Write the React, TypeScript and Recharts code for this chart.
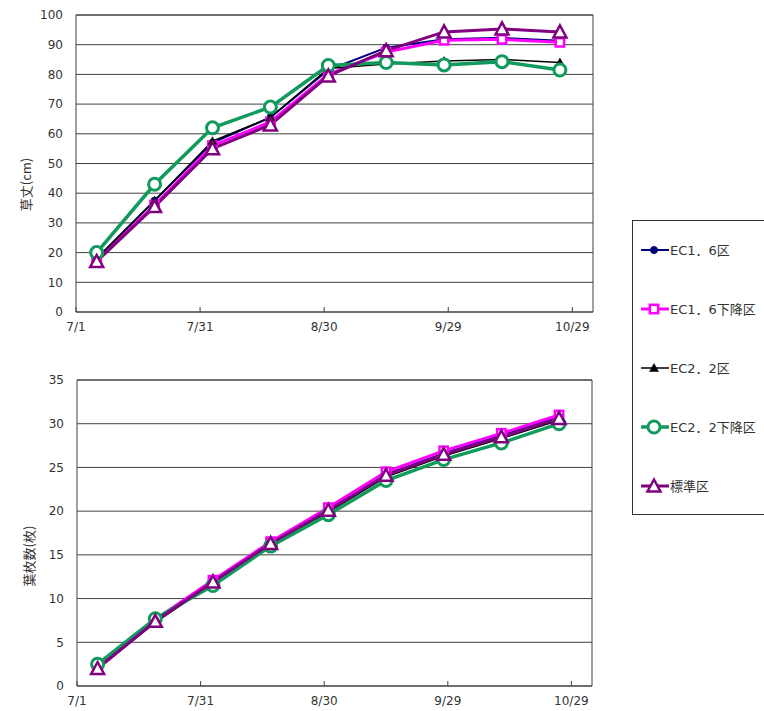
import React from "react";
import { LineChart, Line, XAxis, YAxis, CartesianGrid, ReferenceLine } from "recharts";

// Sampling dates (every two weeks) and the date axis
const SAMPLE_DATES = ["7/6", "7/20", "8/3", "8/17", "8/31", "9/14", "9/28", "10/12", "10/26"];
const AXIS_TICK_DATES = ["7/1", "7/31", "8/30", "9/29", "10/29"];
const AXIS_START = "7/1";
const AXIS_END = "11/3";

// Y axis ticks
const HEIGHT_TICKS = [0, 10, 20, 30, 40, 50, 60, 70, 80, 90, 100];
const LEAF_TICKS = [0, 5, 10, 15, 20, 25, 30, 35];

// Plant height (cm)
const HEIGHT_EC16 = [18, 37.5, 57, 65.5, 81.5, 89, 91.8, 92.3, 91.3];
const HEIGHT_EC16_DOWN = [17.5, 36, 56, 64, 80, 87.5, 91.5, 91.8, 90.8];
const HEIGHT_EC22 = [18, 37.5, 57.5, 65.5, 82, 83.5, 84.5, 85, 84];
const HEIGHT_EC22_DOWN = [20, 43, 62, 69, 83, 84, 83.2, 84.3, 81.5];
const HEIGHT_STANDARD = [17, 35.5, 55, 63, 79.5, 88, 94.3, 95.3, 94.3];

// Leaf count
const LEAVES_EC16 = [2, 7.3, 11.8, 16.2, 20.1, 24.2, 26.6, 28.7, 30.8];
const LEAVES_EC16_DOWN = [2.1, 7.6, 12.1, 16.5, 20.4, 24.5, 26.9, 28.9, 31];
const LEAVES_EC22 = [2, 7.3, 11.7, 16.1, 19.9, 23.9, 26.3, 28.3, 30.4];
const LEAVES_EC22_DOWN = [2.5, 7.7, 11.5, 16, 19.6, 23.5, 25.9, 27.8, 30];
const LEAVES_STANDARD = [2, 7.4, 11.9, 16.3, 20.1, 24.1, 26.5, 28.5, 30.6];

const SERIES_NAMES = ["EC1．6区", "EC1．6下降区", "EC2．2区", "EC2．2下降区", "標準区"];

// days counted from 7/1 (non-leap year)
const MONTH_OFFSET: Record<number, number> = { 7: 0, 8: 31, 9: 62, 10: 92, 11: 123 };
const dayOf = (md: string) => {
  const [m, d] = md.split("/").map(Number);
  return MONTH_OFFSET[m] + d - 1;
};
const AXIS_TICK_DAYS = AXIS_TICK_DATES.map(dayOf);

type MarkerKind = "dot" | "square" | "tri" | "ring" | "bigtri";

const SERIES_STYLE: { key: string; color: string; width: number; marker: MarkerKind }[] = [
  { key: "ec16", color: "#000080", width: 2, marker: "dot" },
  { key: "ec16d", color: "#ff00ff", width: 3, marker: "square" },
  { key: "ec22", color: "#000000", width: 1.5, marker: "tri" },
  { key: "ec22d", color: "#109a5c", width: 3.5, marker: "ring" },
  { key: "std", color: "#800080", width: 3, marker: "bigtri" },
];

const buildRows = (cols: number[][]) =>
  SAMPLE_DATES.map((d, i) => {
    const row: Record<string, number> = { day: dayOf(d) };
    SERIES_STYLE.forEach((s, k) => {
      row[s.key] = cols[k][i];
    });
    return row;
  });

const heightRows = buildRows([HEIGHT_EC16, HEIGHT_EC16_DOWN, HEIGHT_EC22, HEIGHT_EC22_DOWN, HEIGHT_STANDARD]);
const leafRows = buildRows([LEAVES_EC16, LEAVES_EC16_DOWN, LEAVES_EC22, LEAVES_EC22_DOWN, LEAVES_STANDARD]);

const GRID = "#404040";
const TEXT = "#333333";
const NUM_FONT = "'DejaVu Sans', 'Noto Sans CJK JP', sans-serif";
const JP_FONT = "'Noto Sans CJK JP', sans-serif";

function Marker({ kind, cx, cy, color }: { kind: MarkerKind; cx: number; cy: number; color: string }) {
  switch (kind) {
    case "dot":
      return <circle cx={cx} cy={cy} r={3.5} fill={color} stroke={color} strokeWidth={1} />;
    case "square":
      return <rect x={cx - 4.2} y={cy - 4.2} width={8.4} height={8.4} fill="#ffffff" stroke={color} strokeWidth={2.5} />;
    case "tri":
      return <path d={`M${cx},${cy - 4.5} L${cx + 4.5},${cy + 3.5} L${cx - 4.5},${cy + 3.5} Z`} fill={color} stroke={color} strokeWidth={0.5} />;
    case "ring":
      return <circle cx={cx} cy={cy} r={6} fill="#ffffff" stroke={color} strokeWidth={3} />;
    case "bigtri":
      return (
        <path
          d={`M${cx},${cy - 6.5} L${cx + 6.5},${cy + 5.5} L${cx - 6.5},${cy + 5.5} Z`}
          fill="#ffffff"
          stroke={color}
          strokeWidth={2.5}
          strokeLinejoin="miter"
        />
      );
  }
  return null;
}

const DateTick = (props: any) => {
  const { x, y, payload } = props;
  const idx = AXIS_TICK_DAYS.indexOf(payload.value);
  return (
    <g>
      <line x1={x} x2={x} y1={y} y2={y - 5} stroke={GRID} strokeWidth={1} />
      <text x={x} y={y + 19} textAnchor="middle" fontSize={12} fontFamily={NUM_FONT} fill={TEXT}>
        {idx >= 0 ? AXIS_TICK_DATES[idx] : ""}
      </text>
    </g>
  );
};

const axisTitle = (title: string, dx: number, dy: number) => (props: any) => {
  const vb = props.viewBox;
  const x = dx;
  const y = vb.y + vb.height / 2 + dy;
  return (
    <text
      x={x}
      y={y}
      transform={`rotate(-90, ${x}, ${y})`}
      textAnchor="middle"
      dominantBaseline="central"
      fontSize={13}
      fontFamily={JP_FONT}
      fill={TEXT}
    >
      {title}
    </text>
  );
};

function Panel(props: {
  rows: Record<string, number>[];
  width: number;
  height: number;
  margin: { top: number; right: number; left: number; bottom: number };
  yWidth: number;
  xHeight: number;
  yTicks: number[];
  title: string;
  titleX: number;
  titleDy: number;
}) {
  const { rows, width, height, margin, yWidth, xHeight, yTicks, title, titleX, titleDy } = props;
  const yMax = yTicks[yTicks.length - 1];
  return (
    <LineChart width={width} height={height} data={rows} margin={margin}>
      <CartesianGrid horizontal vertical={false} stroke={GRID} strokeWidth={1} />
      <XAxis
        dataKey="day"
        type="number"
        domain={[dayOf(AXIS_START), dayOf(AXIS_END)]}
        ticks={AXIS_TICK_DAYS}
        allowDataOverflow
        height={xHeight}
        tickSize={0}
        tickMargin={0}
        tickLine={false}
        tick={<DateTick />}
        axisLine={{ stroke: GRID, strokeWidth: 1 }}
        interval={0}
      />
      <YAxis
        type="number"
        domain={[0, yMax]}
        ticks={yTicks}
        interval={0}
        width={yWidth}
        tickSize={0}
        tickMargin={13}
        tickLine={false}
        axisLine={{ stroke: GRID, strokeWidth: 1 }}
        tick={{ fontSize: 12, fontFamily: NUM_FONT, fill: TEXT }}
        label={{ content: axisTitle(title, titleX, titleDy) }}
      />
      <ReferenceLine x={dayOf(AXIS_END)} stroke={GRID} strokeWidth={1} ifOverflow="extendDomain" />
      <ReferenceLine y={yMax} stroke={GRID} strokeWidth={1} />
      {SERIES_STYLE.map((s, k) => (
        <Line
          key={s.key}
          dataKey={s.key}
          name={SERIES_NAMES[k]}
          type="linear"
          stroke={s.color}
          strokeWidth={s.width}
          isAnimationActive={false}
          activeDot={false}
          dot={(p: any) => <Marker key={`${s.key}-${p.index}`} kind={s.marker} cx={p.cx} cy={p.cy} color={s.color} />}
        />
      ))}
    </LineChart>
  );
}

function SeriesLegend() {
  return (
    <div
      style={{
        position: "absolute",
        left: 632,
        top: 220,
        width: 150,
        height: 295,
        border: "1px solid #333",
        boxSizing: "border-box",
        background: "#fff",
      }}
    >
      {SERIES_STYLE.map((s, k) => (
        <div key={s.key} style={{ height: 59, display: "flex", alignItems: "center", marginTop: k === 0 ? -1 : 0 }}>
          <svg width={36} height={20} style={{ marginLeft: 7, flex: "none" }}>
            <line x1={1} x2={29} y1={10} y2={10} stroke={s.color} strokeWidth={s.width} />
            <Marker kind={s.marker} cx={14} cy={10} color={s.color} />
          </svg>
          <span style={{ fontSize: 13, fontFamily: NUM_FONT, color: TEXT, marginLeft: -6, whiteSpace: "nowrap" }}>
            {SERIES_NAMES[k]}
          </span>
        </div>
      ))}
    </div>
  );
}

export default function App() {
  return (
    <div
      style={{
        position: "absolute",
        left: 0,
        top: 0,
        width: 764,
        height: 711,
        overflow: "hidden",
        background: "#ffffff",
      }}
    >
      <div style={{ position: "absolute", left: 0, top: 0 }}>
        <Panel
          rows={heightRows}
          width={620}
          height={340}
          margin={{ top: 15, right: 27, left: 0, bottom: 0 }}
          yWidth={76}
          xHeight={28}
          yTicks={HEIGHT_TICKS}
          title="草丈(cm)"
          titleX={25}
          titleDy={21}
        />
      </div>
      <div style={{ position: "absolute", left: 0, top: 350 }}>
        <Panel
          rows={leafRows}
          width={620}
          height={361}
          margin={{ top: 30, right: 28, left: 0, bottom: 0 }}
          yWidth={77}
          xHeight={25}
          yTicks={LEAF_TICKS}
          title="葉枚数(枚)"
          titleX={28}
          titleDy={23}
        />
      </div>
      <SeriesLegend />
    </div>
  );
}
